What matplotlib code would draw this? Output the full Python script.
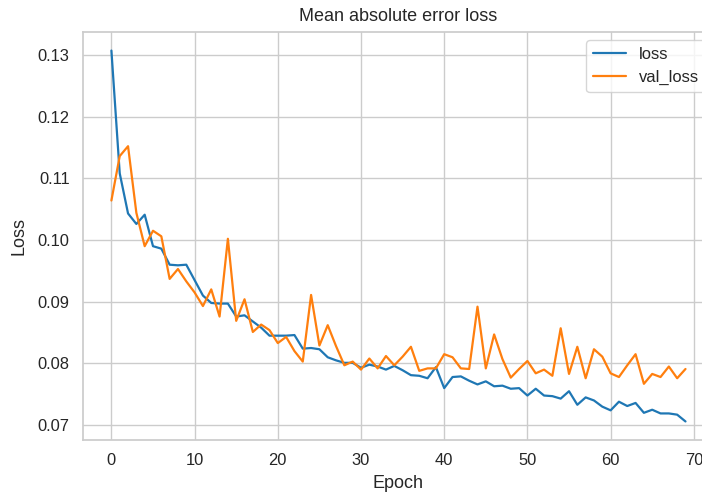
import matplotlib
matplotlib.use("Agg")
import matplotlib.pyplot as plt
import seaborn as sns
import numpy as np

loss = [0.1307, 0.1108, 0.1043, 0.1026, 0.1041, 0.0990, 0.0986, 0.0960, 0.0959, 0.0960,
        0.0935, 0.0910, 0.0898, 0.0897, 0.0897, 0.0876, 0.0878, 0.0868, 0.0858, 0.0845,
        0.0845, 0.0845, 0.0846, 0.0824, 0.0825, 0.0823, 0.0810, 0.0805, 0.0801, 0.0801,
        0.0793, 0.0798, 0.0795, 0.0790, 0.0796, 0.0789, 0.0781, 0.0780, 0.0776, 0.0794,
        0.0760, 0.0778, 0.0779, 0.0772, 0.0766, 0.0771, 0.0763, 0.0764, 0.0759, 0.0760,
        0.0748, 0.0759, 0.0748, 0.0747, 0.0743, 0.0755, 0.0733, 0.0745, 0.0740, 0.0730,
        0.0724, 0.0738, 0.0731, 0.0736, 0.0720, 0.0725, 0.0719, 0.0719, 0.0717, 0.0706]

val_loss = [0.1064, 0.1136, 0.1152, 0.1044, 0.0990, 0.1015, 0.1006, 0.0937, 0.0953, 0.0933,
            0.0915, 0.0893, 0.0920, 0.0876, 0.1002, 0.0869, 0.0904, 0.0851, 0.0863, 0.0854,
            0.0833, 0.0843, 0.0820, 0.0803, 0.0911, 0.0829, 0.0862, 0.0828, 0.0797, 0.0803,
            0.0790, 0.0808, 0.0792, 0.0812, 0.0797, 0.0811, 0.0827, 0.0788, 0.0792, 0.0792,
            0.0815, 0.0810, 0.0792, 0.0791, 0.0892, 0.0792, 0.0847, 0.0807, 0.0777, 0.0791,
            0.0804, 0.0784, 0.0790, 0.0780, 0.0857, 0.0783, 0.0827, 0.0776, 0.0823, 0.0811,
            0.0784, 0.0778, 0.0797, 0.0815, 0.0767, 0.0783, 0.0778, 0.0795, 0.0776, 0.0791]

epochs = list(range(len(loss)))

sns.set_theme(style="whitegrid")
plt.rcParams['font.family'] = ['Liberation Sans', 'DejaVu Sans']

fig = plt.figure(figsize=(7.02, 4.95), dpi=100)
ax = fig.add_axes([82.7/702, 55/495, 631.5/702, 408/495])
ax.plot(epochs, loss, label="loss", color="#1f77b4", linewidth=1.6)
ax.plot(epochs, val_loss, label="val_loss", color="#ff7f0e", linewidth=1.6)
ax.set_title("Mean absolute error loss", fontsize=13, pad=8)
ax.set_xlabel("Epoch", fontsize=13, labelpad=5)
ax.set_ylabel("Loss", fontsize=13, labelpad=7)
ax.set_yticks([0.07, 0.08, 0.09, 0.10, 0.11, 0.12, 0.13])
ax.set_xticks([0, 10, 20, 30, 40, 50, 60, 70])
ax.tick_params(labelsize=11.9)
ax.legend(loc="upper right", fontsize=11.9)
fig.savefig("out.png", dpi=100)
